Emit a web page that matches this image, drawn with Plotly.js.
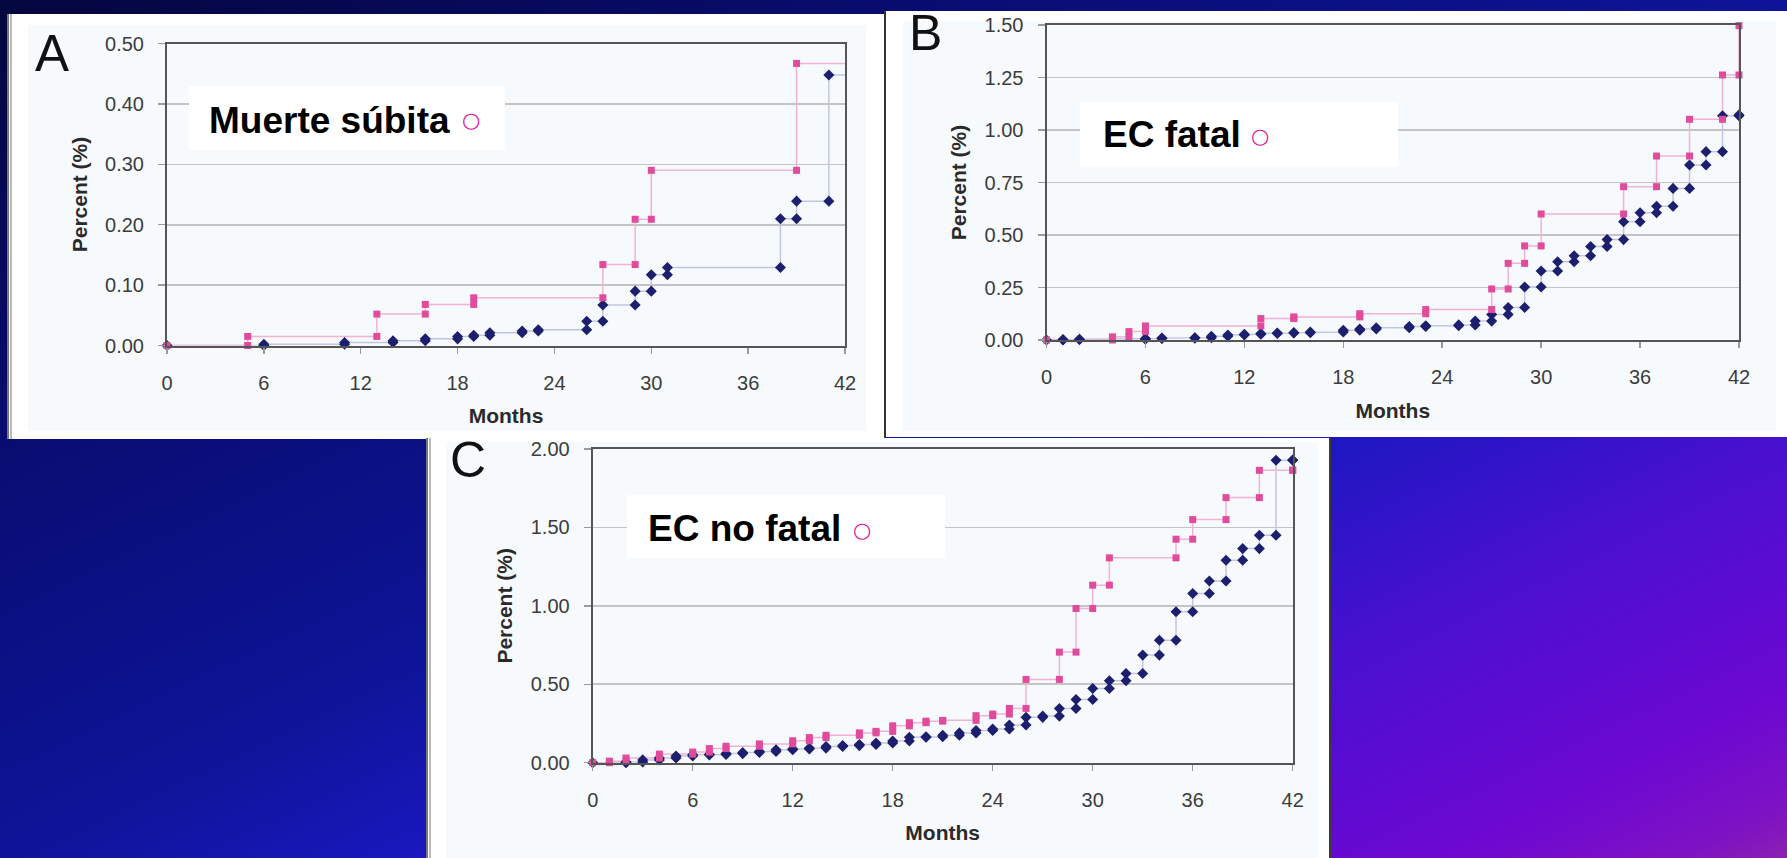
<!DOCTYPE html>
<html>
<head>
<meta charset="utf-8">
<script src="https://cdn.plot.ly/plotly-3.0.1.min.js"></script>
<style>
html,body{margin:0;padding:0;width:1787px;height:858px;overflow:hidden;
background:linear-gradient(to bottom right,#04063e 0%,#090d74 28%,#0e1498 50%,#1a18c0 62%,#4a10d0 76%,#6c08d2 90%,#7e12c4 97%,#8a22b0 100%);}
#chart{width:1787px;height:858px;}
</style>
</head>
<body>
<div id="chart"></div>
<script>
// ---------------- DATA ----------------
const monthTicks = [0, 6, 12, 18, 24, 30, 36, 42];
const monthEnd = 42;

// Panel A - Muerte súbita
const aPinkT = [5, 13, 16, 19, 27, 29, 30, 39];
const aPinkV = [0.015, 0.052, 0.068, 0.079, 0.134, 0.209, 0.290, 0.467];
const aBlueT = [6, 11, 14, 16, 18, 19, 20, 22, 23, 26, 27, 29, 30, 31, 38, 39, 41];
const aBlueV = [0.002, 0.005, 0.008, 0.011, 0.015, 0.017, 0.021, 0.024, 0.026, 0.040, 0.067, 0.090, 0.117, 0.129, 0.210, 0.239, 0.448];
const aYTicks = [0, 0.1, 0.2, 0.3, 0.4, 0.5];

// Panel B - EC fatal
const bPinkT = [4, 5, 6, 13, 15, 19, 23, 27, 28, 29, 30, 35, 37, 39, 41, 42];
const bPinkV = [0.015, 0.040, 0.067, 0.102, 0.110, 0.125, 0.145, 0.243, 0.365, 0.448, 0.600, 0.730, 0.876, 1.051, 1.262, 1.497];
const bBlueT = [1, 2, 6, 7, 9, 10, 11, 12, 13, 14, 15, 16, 18, 19, 20, 22, 23, 25, 26, 27, 28, 29, 30, 31, 32, 33, 34, 35, 36, 37, 38, 39, 40, 41, 42];
const bBlueV = [0.002, 0.004, 0.007, 0.009, 0.011, 0.018, 0.024, 0.027, 0.031, 0.033, 0.035, 0.038, 0.046, 0.052, 0.058, 0.064, 0.068, 0.072, 0.090, 0.122, 0.155, 0.252, 0.329, 0.373, 0.401, 0.445, 0.478, 0.563, 0.606, 0.637, 0.722, 0.833, 0.897, 1.068, 1.072];
const bYTicks = [0, 0.25, 0.5, 0.75, 1.0, 1.25, 1.5];

// Panel C - EC no fatal
const cPinkT = [1, 2, 4, 6, 7, 8, 10, 12, 13, 14, 16, 17, 18, 19, 20, 21, 23, 24, 25, 26, 28, 29, 30, 31, 35, 36, 38, 40, 42];
const cPinkV = [0.010, 0.030, 0.055, 0.068, 0.090, 0.105, 0.120, 0.140, 0.160, 0.175, 0.190, 0.200, 0.235, 0.255, 0.265, 0.270, 0.300, 0.310, 0.346, 0.531, 0.705, 0.983, 1.132, 1.306, 1.425, 1.550, 1.690, 1.864, 1.866];
const cBlueT = [2, 3, 4, 5, 6, 7, 8, 9, 10, 11, 12, 13, 14, 15, 16, 17, 18, 19, 20, 21, 22, 23, 24, 25, 26, 27, 28, 29, 30, 31, 32, 33, 34, 35, 36, 37, 38, 39, 40, 41, 42];
const cBlueV = [0.005, 0.018, 0.030, 0.043, 0.050, 0.053, 0.058, 0.065, 0.072, 0.082, 0.088, 0.093, 0.103, 0.109, 0.116, 0.126, 0.138, 0.162, 0.166, 0.175, 0.190, 0.205, 0.215, 0.240, 0.289, 0.297, 0.346, 0.403, 0.473, 0.522, 0.569, 0.686, 0.781, 0.962, 1.079, 1.159, 1.291, 1.365, 1.450, 1.928, 1.930];
const cYTicks = [0, 0.5, 1.0, 1.5, 2.0];

const panelLetters = ['A', 'B', 'C'];
const panelLabels = ['Muerte súbita', 'EC fatal', 'EC no fatal'];
const circleMark = '○';

// ---------------- HELPERS ----------------
const W = 1787, H = 858;
const px = v => v / W;
const py = v => 1 - v / H;

function stepPoints(times, vals) {
  const x = [0], y = [0];
  let prev = 0;
  times.forEach((t, i) => { x.push(t, t); y.push(prev, vals[i]); prev = vals[i]; });
  return { x, y };
}
function stepLine(times, vals) {
  const p = stepPoints(times, vals);
  if (p.x[p.x.length - 1] < monthEnd) { p.x.push(monthEnd); p.y.push(p.y[p.y.length - 1]); }
  return p;
}

const PINK = '#e04b9b', PINK_LINE = '#f1b3d4';
const BLUE = '#1c1e6e', BLUE_LINE = '#c3c6e2';

function panelTraces(pt, pv, bt, bv, xa, ya) {
  const pl = stepLine(pt, pv), bl = stepLine(bt, bv);
  const pm = stepPoints(pt, pv), bm = stepPoints(bt, bv);
  return [
    { x: bl.x, y: bl.y, xaxis: xa, yaxis: ya, mode: 'lines', line: { color: BLUE_LINE, width: 1.5 }, hoverinfo: 'skip', showlegend: false, cliponaxis: false },
    { x: pl.x, y: pl.y, xaxis: xa, yaxis: ya, mode: 'lines', line: { color: PINK_LINE, width: 1.5 }, hoverinfo: 'skip', showlegend: false, cliponaxis: false },
    { x: bm.x, y: bm.y, xaxis: xa, yaxis: ya, mode: 'markers', name: 'Grupo azul', marker: { symbol: 'diamond', size: 8.5, color: BLUE }, showlegend: false, cliponaxis: false },
    { x: pm.x, y: pm.y, xaxis: xa, yaxis: ya, mode: 'markers', name: 'Grupo rosa', marker: { symbol: 'square', size: 7, color: PINK }, showlegend: false, cliponaxis: false }
  ];
}

const data = [].concat(
  panelTraces(aPinkT, aPinkV, aBlueT, aBlueV, 'x', 'y'),
  panelTraces(bPinkT, bPinkV, bBlueT, bBlueV, 'x2', 'y2'),
  panelTraces(cPinkT, cPinkV, cBlueT, cBlueV, 'x3', 'y3')
);

const FONT = 'Liberation Sans, Arial, sans-serif';
function xAxis(x0, x1, anchor) {
  return {
    domain: [px(x0), px(x1)], range: [0, 42], anchor: anchor,
    tickmode: 'array', tickvals: monthTicks, ticktext: monthTicks.map(String),
    showgrid: false, zeroline: false,
    showline: true, mirror: true, linecolor: '#555555', linewidth: 2,
    ticks: 'outside', ticklen: 6, tickcolor: '#9a9a9a', tickwidth: 1.5,
    ticklabelstandoff: 12,
    tickfont: { family: FONT, size: 20, color: '#3c3c3c' },
    title: { text: '<b>Months</b>', font: { family: FONT, size: 21, color: '#2a2a2a' }, standoff: 16 },
    fixedrange: true
  };
}
function yAxis(y0, y1, maxV, ticks, anchor) {
  return {
    domain: [py(y1), py(y0)], range: [0, maxV], anchor: anchor,
    tickmode: 'array', tickvals: ticks, tickformat: '.2f',
    showgrid: true, gridcolor: '#c4c4c4', gridwidth: 1.6, zeroline: false,
    showline: true, mirror: true, linecolor: '#555555', linewidth: 2,
    ticks: 'outside', ticklen: 7, tickcolor: '#9a9a9a', tickwidth: 1.5,
    ticklabelstandoff: 10,
    tickfont: { family: FONT, size: 20, color: '#3c3c3c' },
    title: { text: '<b>Percent (%)</b>', font: { family: FONT, size: 21, color: '#2a2a2a' }, standoff: 12 },
    fixedrange: true
  };
}

function rect(x0, y0, x1, y1, fill, layer) {
  return { type: 'rect', xref: 'paper', yref: 'paper', x0: px(x0), x1: px(x1), y0: py(y1), y1: py(y0),
    fillcolor: fill, line: { width: 0 }, layer: layer || 'below' };
}
function vline(x, y0, y1, color, w) {
  return { type: 'line', xref: 'paper', yref: 'paper', x0: px(x), x1: px(x), y0: py(y1), y1: py(y0),
    line: { color: color, width: w }, layer: 'below' };
}

const shapes = [
  // Panel A
  rect(7, 14, 884, 439, '#ffffff'), rect(28, 25, 866, 431, '#f7fafd'),
  vline(8, 14, 439, '#4a4a4a', 1.5), vline(11, 14, 439, '#8a8a8a', 1.2),
  // Panel B
  rect(884, 11, 1787, 437, '#ffffff'), rect(903, 21, 1776, 431, '#f7fafd'),
  vline(885, 11, 438, '#333333', 2),
  // Panel C
  rect(426, 438, 1331, 858, '#ffffff'), rect(446, 442, 1318, 858, '#f7fafd'),
  vline(427, 438, 858, '#4a4a4a', 1.5), vline(430, 438, 858, '#8a8a8a', 1.2),
  vline(1330, 438, 858, '#3a3a3a', 2),
  // label boxes
  rect(189, 86, 505, 150, '#ffffff', 'above'),
  rect(1080, 102, 1398, 167, '#ffffff', 'above'),
  rect(627, 495, 945, 558, '#ffffff', 'above')
];

function ann(text, x, y, size, color, xanchor, bold, family) {
  return { text: bold ? '<b>' + text + '</b>' : text, xref: 'paper', yref: 'paper', x: px(x), y: py(y),
    xanchor: xanchor || 'left', yanchor: 'middle', showarrow: false,
    font: { family: family || FONT, size: size, color: color } };
}

const CIRC_FONT = 'DejaVu Sans, sans-serif';
const annotations = [
  ann(panelLetters[0], 33, 54, 51, '#111111', 'left'),
  ann(panelLetters[1], 907, 33, 50, '#111111', 'left'),
  ann(panelLetters[2], 448, 460, 50, '#111111', 'left'),
  ann(panelLabels[0], 207, 120, 37, '#000000', 'left', true),
  ann(panelLabels[1], 1101, 135, 37, '#000000', 'left', true),
  ann(panelLabels[2], 646, 528, 37, '#000000', 'left', true),
  ann(circleMark, 471, 120, 21, '#e0149c', 'center', false, CIRC_FONT),
  ann(circleMark, 1260, 136, 21, '#e0149c', 'center', false, CIRC_FONT),
  ann(circleMark, 862, 530, 21, '#e0149c', 'center', false, CIRC_FONT)
];

const layout = {
  width: W, height: H,
  margin: { l: 0, r: 0, t: 0, b: 0 },
  paper_bgcolor: 'rgba(0,0,0,0)', plot_bgcolor: 'rgba(0,0,0,0)',
  showlegend: false,
  xaxis: xAxis(167, 845, 'y'),
  yaxis: yAxis(43.5, 345.5, 0.5, aYTicks, 'x'),
  xaxis2: xAxis(1046.5, 1739, 'y2'),
  yaxis2: yAxis(25, 340, 1.5, bYTicks, 'x2'),
  xaxis3: xAxis(592.7, 1292.7, 'y3'),
  yaxis3: yAxis(449, 762.7, 2.0, cYTicks, 'x3'),
  shapes: shapes,
  annotations: annotations
};

Plotly.newPlot('chart', data, layout, { staticPlot: true, displayModeBar: false });
</script>
</body>
</html>
